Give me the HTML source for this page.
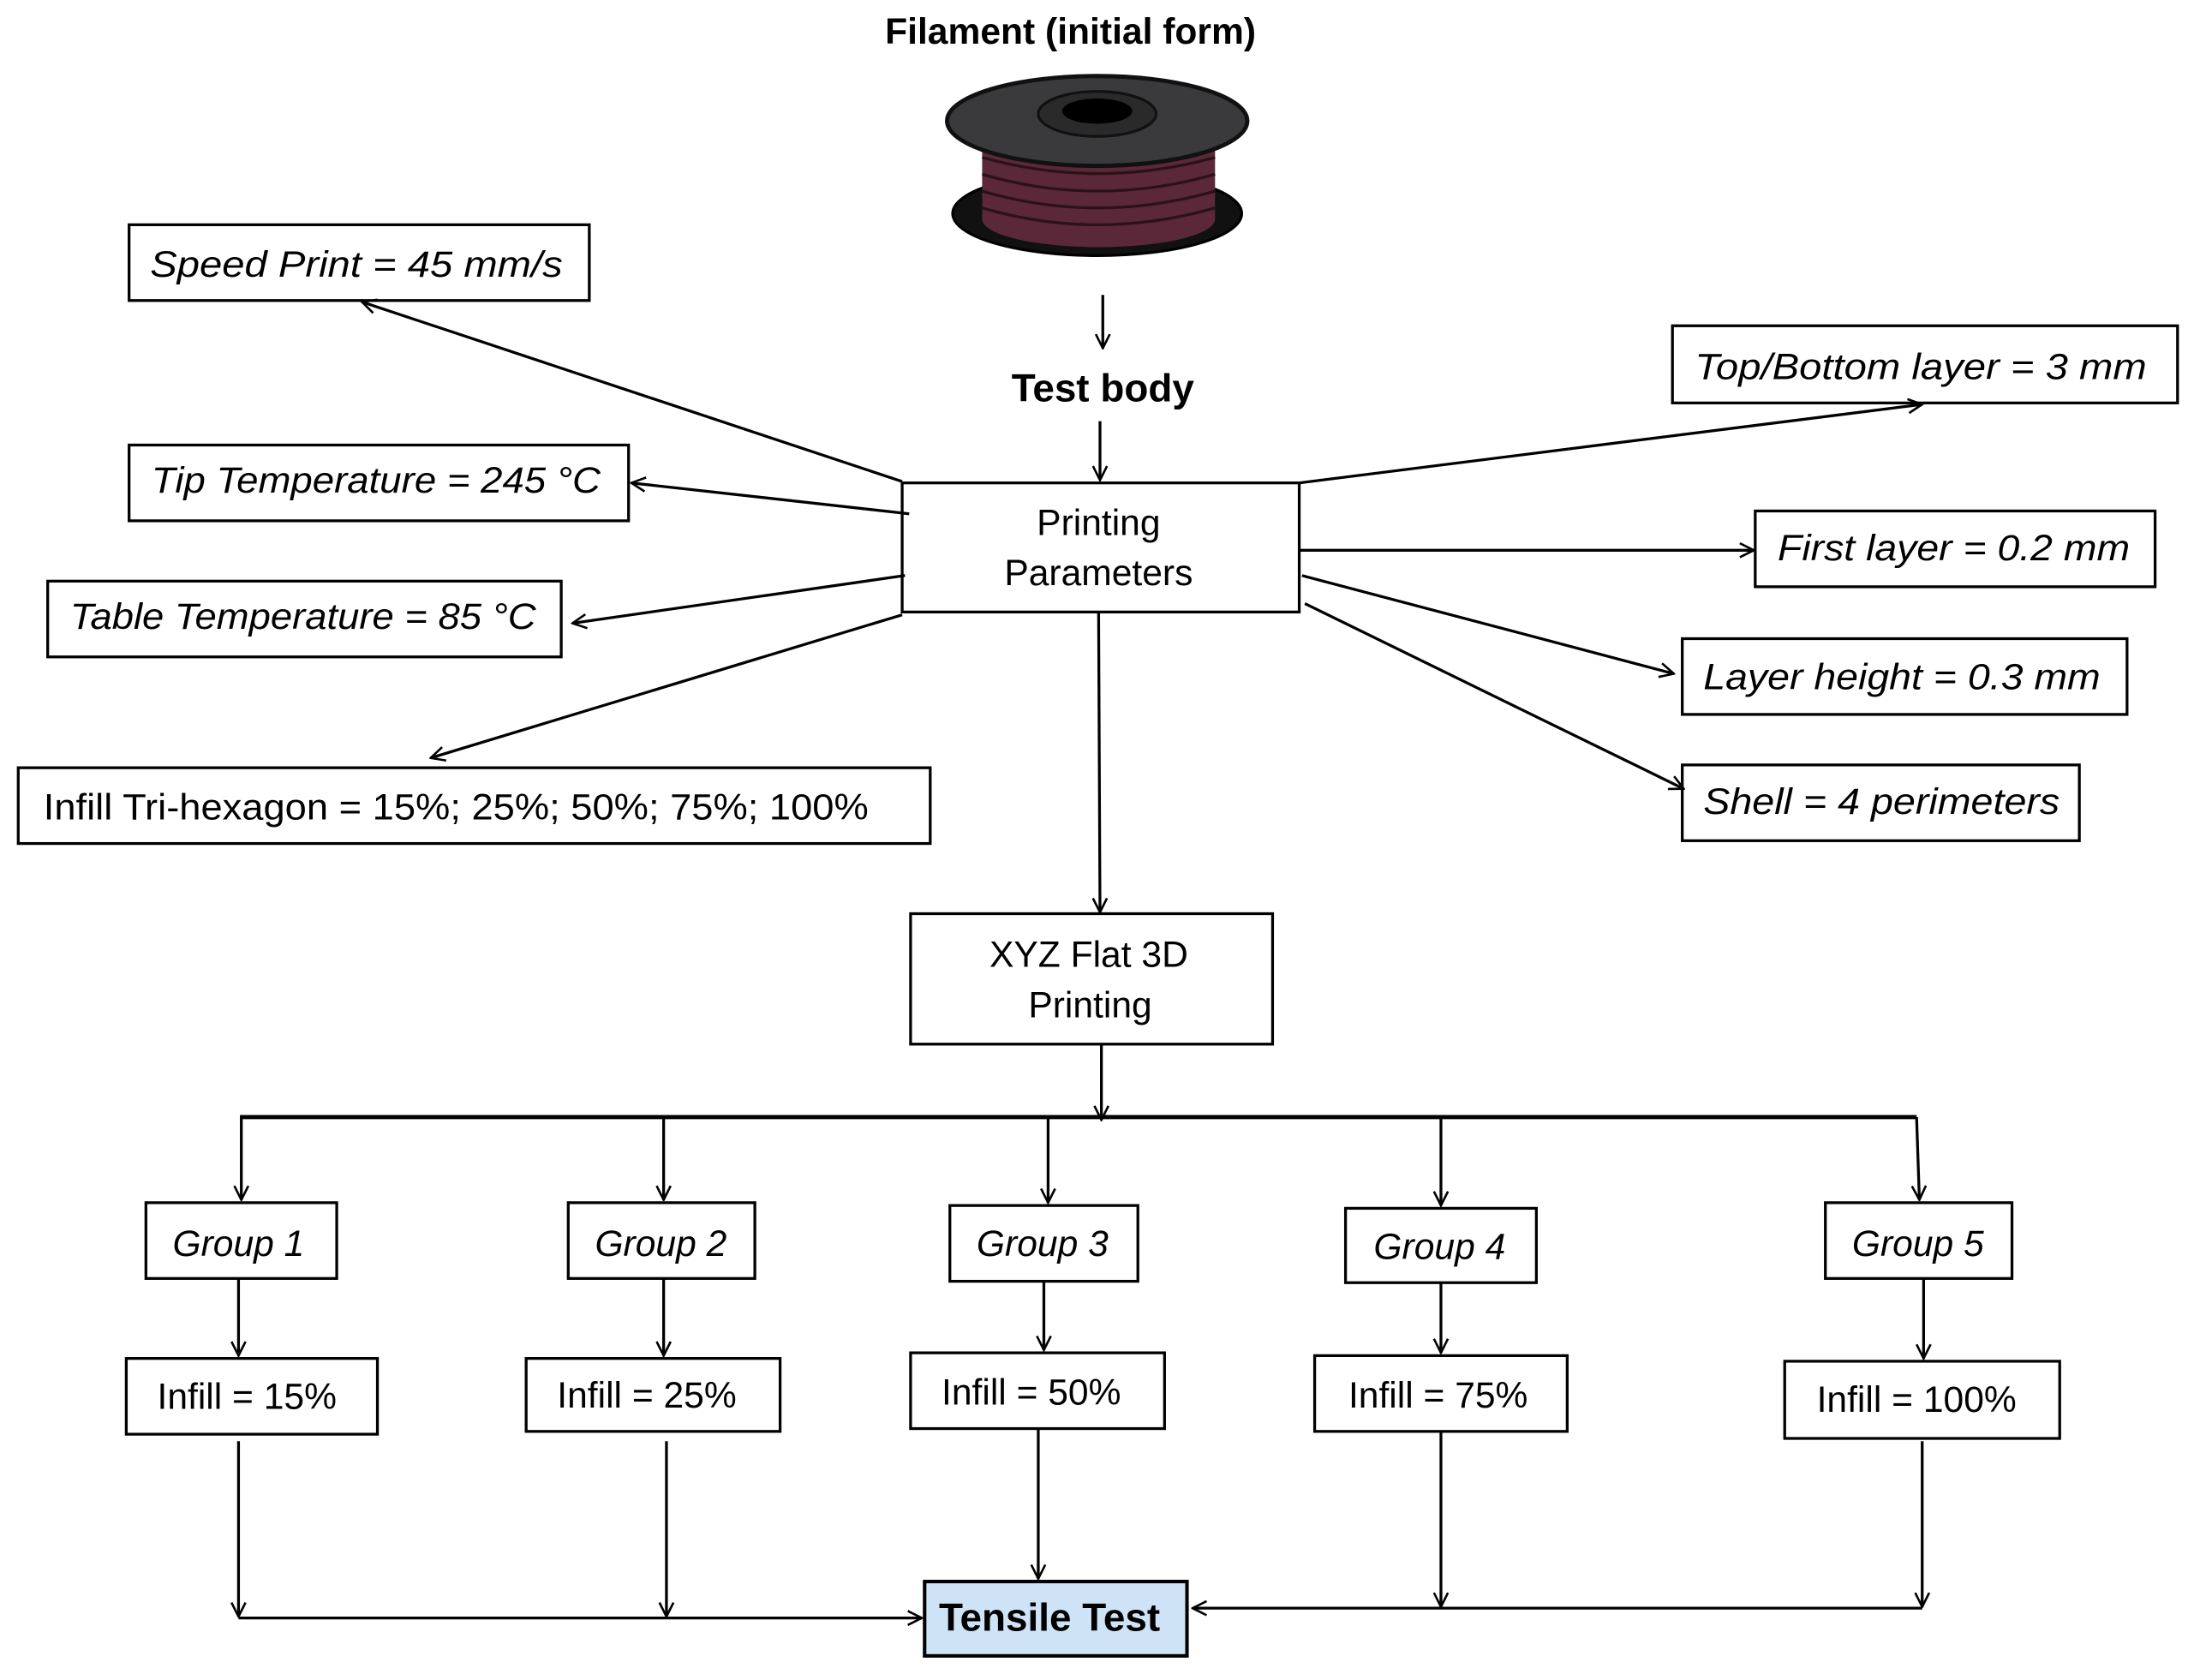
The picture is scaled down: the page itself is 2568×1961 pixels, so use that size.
<!DOCTYPE html>
<html><head><meta charset="utf-8"><style>
html,body{margin:0;padding:0;background:#fff;}
svg{display:block;}
text{font-family:"Liberation Sans Narrow","Liberation Sans",sans-serif;fill:#000;}
.i{font-style:italic;}
</style></head><body>
<svg width="2568" height="1961" viewBox="0 0 1568 1197" xmlns="http://www.w3.org/2000/svg">
<defs>
<marker id="a" viewBox="0 0 12 12" refX="11" refY="6" markerWidth="12" markerHeight="12" markerUnits="userSpaceOnUse" orient="auto">
<path d="M1,1 L11,6 L1,11" fill="none" stroke="#000" stroke-width="1.6"/>
</marker>
</defs>
<g stroke="#000" stroke-width="2" fill="none">
<!-- spool -->
<ellipse cx="782" cy="152" rx="103" ry="30" fill="#111"/>
<rect x="700" y="90" width="166" height="66" fill="#5a2838" stroke="none"/>
<ellipse cx="783" cy="156" rx="83" ry="20" fill="#5a2838" stroke="none"/>
<path d="M700,112 Q782,135 866,112 M700,124 Q782,148 866,124 M700,136 Q782,160 866,136 M700,148 Q782,172 866,148" stroke="#2a1218" stroke-width="2"/>
<ellipse cx="782" cy="86" rx="107" ry="32" fill="#3a3a3c" stroke="#111" stroke-width="3"/>
<ellipse cx="782" cy="81" rx="42" ry="16" fill="#2a2a2a" stroke="#111"/>
<ellipse cx="782" cy="79" rx="25" ry="9" fill="#000" stroke="none"/>

<!-- boxes -->
<rect x="643" y="344" width="283" height="92"/>
<rect x="92" y="160" width="328" height="54"/>
<rect x="92" y="317" width="356" height="54"/>
<rect x="34" y="414" width="366" height="54"/>
<rect x="13" y="547" width="650" height="54"/>
<rect x="1192" y="232" width="360" height="55"/>
<rect x="1251" y="364" width="285" height="54"/>
<rect x="1199" y="455" width="317" height="54"/>
<rect x="1199" y="545" width="283" height="54"/>
<rect x="649" y="651" width="258" height="93"/>
<rect x="104" y="857" width="136" height="54"/>
<rect x="405" y="857" width="133" height="54"/>
<rect x="677" y="859" width="134" height="54"/>
<rect x="959" y="861" width="136" height="53"/>
<rect x="1301" y="857" width="133" height="54"/>
<rect x="90" y="968" width="179" height="54"/>
<rect x="375" y="968" width="181" height="52"/>
<rect x="649" y="964" width="181" height="54"/>
<rect x="937" y="966" width="180" height="54"/>
<rect x="1272" y="970" width="196" height="55"/>
<rect x="659" y="1127" width="187" height="53" fill="#cfe3f7" stroke-width="2.5"/>

<!-- connectors -->
<line x1="786" y1="210" x2="786" y2="248" marker-end="url(#a)"/>
<line x1="784" y1="300" x2="784" y2="342" marker-end="url(#a)"/>
<line x1="643" y1="343" x2="258" y2="215" marker-end="url(#a)"/>
<line x1="648" y1="366" x2="450" y2="344" marker-end="url(#a)"/>
<line x1="645" y1="410" x2="408" y2="444" marker-end="url(#a)"/>
<line x1="643" y1="438" x2="307" y2="540" marker-end="url(#a)"/>
<line x1="926" y1="344" x2="1370" y2="288" marker-end="url(#a)"/>
<line x1="926" y1="392" x2="1250" y2="392" marker-end="url(#a)"/>
<line x1="928" y1="410" x2="1193" y2="480" marker-end="url(#a)"/>
<line x1="930" y1="430" x2="1200" y2="562" marker-end="url(#a)"/>
<line x1="783" y1="436" x2="784" y2="650" marker-end="url(#a)"/>
<line x1="785" y1="744" x2="785" y2="798" marker-end="url(#a)"/>
<line x1="171" y1="796" x2="1366" y2="796" stroke-width="3"/>
<line x1="172" y1="796" x2="172" y2="855" marker-end="url(#a)"/>
<line x1="473" y1="796" x2="473" y2="855" marker-end="url(#a)"/>
<line x1="747" y1="796" x2="747" y2="857" marker-end="url(#a)"/>
<line x1="1027" y1="796" x2="1027" y2="859" marker-end="url(#a)"/>
<line x1="1366" y1="796" x2="1368" y2="855" marker-end="url(#a)"/>
<line x1="170" y1="911" x2="170" y2="966" marker-end="url(#a)"/>
<line x1="473" y1="911" x2="473" y2="966" marker-end="url(#a)"/>
<line x1="744" y1="913" x2="744" y2="962" marker-end="url(#a)"/>
<line x1="1027" y1="914" x2="1027" y2="964" marker-end="url(#a)"/>
<line x1="1371" y1="911" x2="1371" y2="968" marker-end="url(#a)"/>
<line x1="170" y1="1027" x2="170" y2="1152" marker-end="url(#a)"/>
<line x1="475" y1="1027" x2="475" y2="1152" marker-end="url(#a)"/>
<line x1="740" y1="1018" x2="740" y2="1125" marker-end="url(#a)"/>
<line x1="1027" y1="1020" x2="1027" y2="1145" marker-end="url(#a)"/>
<line x1="1370" y1="1027" x2="1370" y2="1145" marker-end="url(#a)"/>
<line x1="170" y1="1153" x2="657" y2="1153" marker-end="url(#a)"/>
<line x1="1370" y1="1146" x2="850" y2="1146" marker-end="url(#a)"/>
</g>

<text x="763" y="31" font-size="26" font-weight="bold" text-anchor="middle">Filament (initial form)</text>
<text x="786" y="286" font-size="28" font-weight="bold" text-anchor="middle">Test body</text>
<text x="783" y="381" font-size="26" text-anchor="middle">Printing</text>
<text x="783" y="417" font-size="26" text-anchor="middle">Parameters</text>
<text class="i" x="107" y="197" font-size="26" textLength="294" lengthAdjust="spacingAndGlyphs">Speed Print = 45  mm/s</text>
<text class="i" x="108" y="351" font-size="26" textLength="320" lengthAdjust="spacingAndGlyphs">Tip Temperature = 245 °C</text>
<text class="i" x="50" y="448" font-size="26" textLength="332" lengthAdjust="spacingAndGlyphs">Table Temperature = 85 °C</text>
<text x="31" y="584" font-size="26" textLength="588" lengthAdjust="spacingAndGlyphs">Infill Tri-hexagon = 15%; 25%; 50%; 75%; 100%</text>
<text class="i" x="1208" y="270" font-size="26" textLength="322" lengthAdjust="spacingAndGlyphs">Top/Bottom layer = 3 mm</text>
<text class="i" x="1267" y="399" font-size="26" textLength="251" lengthAdjust="spacingAndGlyphs">First layer = 0.2 mm</text>
<text class="i" x="1214" y="491" font-size="26" textLength="283" lengthAdjust="spacingAndGlyphs">Layer height = 0.3 mm</text>
<text class="i" x="1214" y="580" font-size="26" textLength="254" lengthAdjust="spacingAndGlyphs">Shell = 4 perimeters</text>
<text x="776" y="689" font-size="26" text-anchor="middle">XYZ Flat 3D</text>
<text x="777" y="725" font-size="26" text-anchor="middle">Printing</text>
<text class="i" x="170" y="895" font-size="26" text-anchor="middle">Group 1</text>
<text class="i" x="471" y="895" font-size="26" text-anchor="middle">Group 2</text>
<text class="i" x="743" y="895" font-size="26" text-anchor="middle">Group 3</text>
<text class="i" x="1026" y="897" font-size="26" text-anchor="middle">Group 4</text>
<text class="i" x="1367" y="895" font-size="26" text-anchor="middle">Group 5</text>
<text x="176" y="1004" font-size="26" text-anchor="middle">Infill = 15%</text>
<text x="461" y="1003" font-size="26" text-anchor="middle">Infill = 25%</text>
<text x="735" y="1001" font-size="26" text-anchor="middle">Infill = 50%</text>
<text x="1025" y="1003" font-size="26" text-anchor="middle">Infill = 75%</text>
<text x="1366" y="1006" font-size="26" text-anchor="middle">Infill = 100%</text>
<text x="748" y="1162" font-size="28" font-weight="bold" text-anchor="middle">Tensile Test</text>
</svg>
</body></html>
